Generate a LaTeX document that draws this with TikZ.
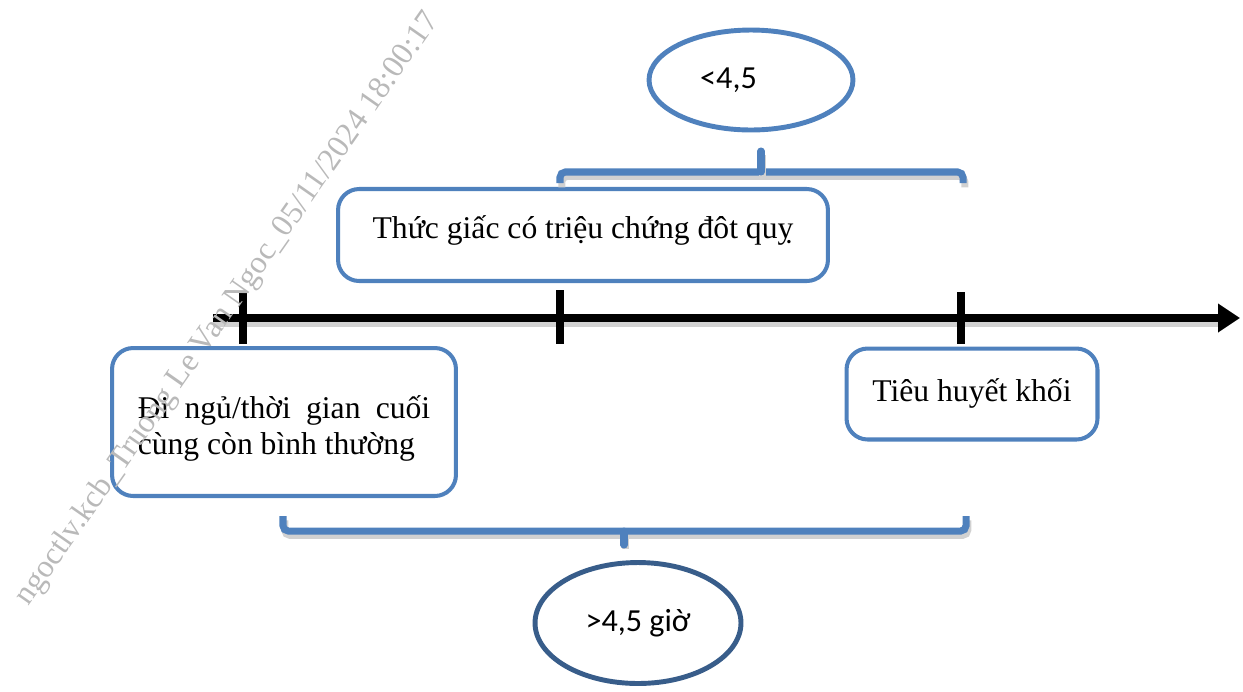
\documentclass[tikz,border=0pt]{standalone}
\usepackage{fontspec}
\setmainfont{Liberation Serif}
\newfontfamily\calibri{Carlito}
\usetikzlibrary{arrows.meta}
\usetikzlibrary{shapes.geometric}

\definecolor{boxblue}{HTML}{4F81BD}
\definecolor{ovaldark}{HTML}{385D8A}

\begin{document}
\begin{tikzpicture}[x=0.02cm,y=-0.02cm,
    box/.style={draw=boxblue, line width=2.3pt, rounded corners=12pt, fill=white,
      inner sep=0pt, font=\fontsize{18}{20.5}\selectfont},
    oval/.style={ellipse, draw=boxblue, line width=2.8pt, fill=white, inner sep=0pt,
      font=\calibri\fontsize{18.3}{22}\selectfont},
    brace/.style={draw=boxblue, line width=4pt, rounded corners=3pt,
      preaction={draw=black!18, line width=4pt, transform canvas={xshift=1pt,yshift=-2.5pt}}},
    tick/.style={line width=4.5pt}]
  \useasboundingbox (0,0) rectangle (1243,691);

  % time axis
  \coordinate (start) at (213,318);
  \coordinate (end) at (1240,318);
  \draw[line width=4pt, black!18, transform canvas={yshift=-3pt}] (start) -- (1220,318);
  \draw[line width=4pt, -{Triangle[length=0.44cm,width=0.55cm]}] (start) -- (end);
  \coordinate (t1) at (243,318);
  \coordinate (t2) at (560,318);
  \coordinate (t3) at (961,318);
  \draw[tick] (t1) ++(0,-26) -- ++(0,52);
  \draw[tick] (t2) ++(0,-28) -- ++(0,54);
  \draw[tick] (t3) ++(0,-26) -- ++(0,52);

  % boxes
  \node[box, minimum width=9.8cm, minimum height=1.84cm] (wake) at (583,235)
    {\raisebox{0.3cm}{Thức giấc có triệu chứng đôt quỵ}};
  \node[box, minimum width=6.88cm, minimum height=2.96cm] (sleep) at (284,422)
    {\parbox{5.85cm}{\vspace*{0.24cm}\hyphenpenalty=10000 Đi ngủ/thời gian cuối cùng còn bình thường}};
  \node[box, minimum width=5.02cm, minimum height=1.82cm] (lysis) at (972,394)
    {\raisebox{0.15cm}{Tiêu huyết khối}};

  % brackets
  \draw[brace] (560,183) -- (560,172) -- (963,172) -- (963,183);
  \draw[brace, line cap=round, rounded corners=0pt] (761,172) -- (761,151);
  \draw[brace] (283,516) -- (283,531) -- (966,531) -- (966,516);
  \draw[brace, line cap=round, rounded corners=0pt] (624,531) -- (624,545);

  % ovals
  \node[oval, minimum width=4.08cm, minimum height=2cm] (short) at (751,80)
    {\hspace*{-0.9cm}<4,5};
  \node[oval, draw=ovaldark, minimum width=4.12cm, minimum height=2.42cm] (long) at (638,623)
    {>4,5 giờ};

  % watermark
  \node[rotate=55, text=gray!55, font=\fontsize{18.2}{20}\selectfont] (mark) at (228,309)
    {ngoctlv.kcb\_Truong Le Van Ngoc\_05/11/2024 18:00:17};
\end{tikzpicture}
\end{document}
